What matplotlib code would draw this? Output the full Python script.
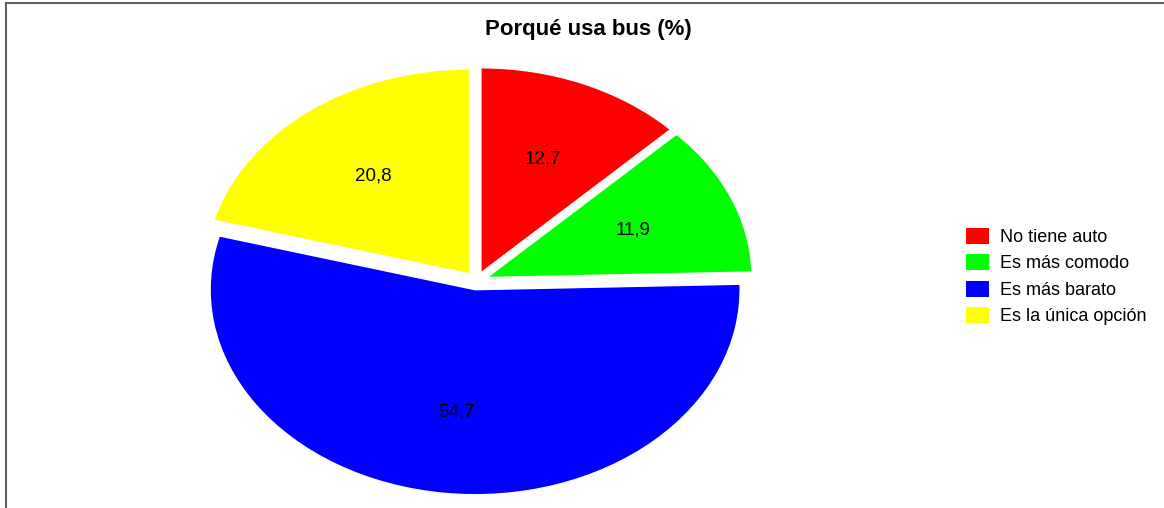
import matplotlib.pyplot as plt
from matplotlib.lines import Line2D

TITLE = 'Porqué usa bus (%)'
categories = ['No tiene auto', 'Es más comodo', 'Es más barato', 'Es la única opción']
values = [12.7, 11.9, 54.7, 20.8]
colors = ['#ff0000', '#00ff00', '#0000ff', '#ffff00']

W, H = 1164, 508


def make_chart():
    plt.rcParams['font.family'] = ['Liberation Sans', 'DejaVu Sans']
    fig = plt.figure(figsize=(W / 100, H / 100), dpi=100)

    # pie is stretched horizontally in the reference, so use a non-equal axes
    ax = fig.add_axes([0.1589, 0.003, 0.5009, 0.888])
    _, _, autotexts = ax.pie(values, colors=colors, startangle=90,
                             counterclock=False, explode=[0.043] * len(values),
                             autopct='%1.1f', pctdistance=0.6,
                             wedgeprops={'edgecolor': 'white', 'linewidth': 1},
                             textprops={'fontsize': 13.5, 'color': 'black'})
    for t, v in zip(autotexts, values):
        t.set_text(f'{v:.1f}'.replace('.', ','))
    ax.set_aspect('auto')
    ax.set_xlim(-1.1, 1.1)
    ax.set_ylim(-1.1, 1.1)

    fig.text(588 / W, 1 - 30 / H, TITLE, ha='center', va='center',
             fontsize=16, fontweight='bold')

    handles = [plt.Rectangle((0, 0), 1, 1, facecolor=c, edgecolor='none')
               for c in colors]
    fig.legend(handles, categories, loc='center left',
               bbox_to_anchor=(966 / W, 1 - 276.5 / H),
               bbox_transform=fig.transFigure, frameon=False,
               fontsize=13, handlelength=1.28, handleheight=1.0,
               handletextpad=0.6, labelspacing=0.45,
               borderpad=0, borderaxespad=0)

    # partial frame (top and left) seen in the screenshot
    fig.add_artist(Line2D([6 / W, 1], [1 - 3 / H, 1 - 3 / H],
                          transform=fig.transFigure, color='#606060', lw=1.5))
    fig.add_artist(Line2D([6 / W, 6 / W], [0, 1 - 3 / H],
                          transform=fig.transFigure, color='#606060', lw=1.5))

    fig.savefig('out.png', dpi=100)


if __name__ == '__main__':
    make_chart()
